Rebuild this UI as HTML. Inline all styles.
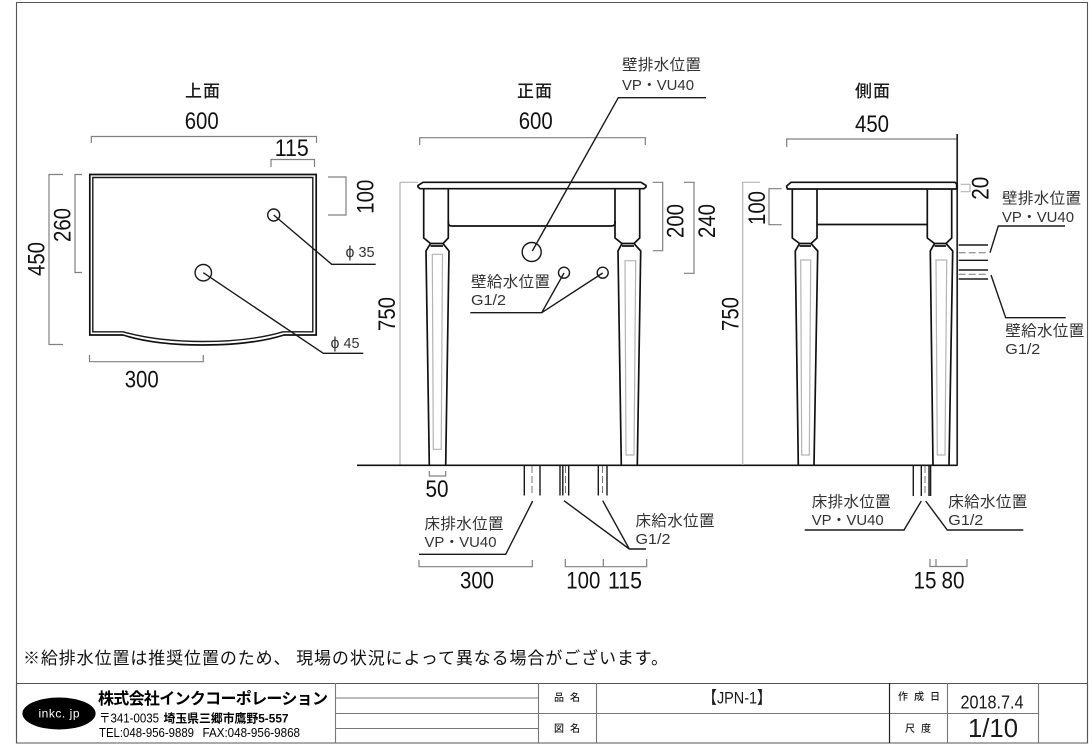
<!DOCTYPE html>
<html lang="ja">
<head>
<meta charset="utf-8">
<title>JPN-1</title>
<style>
html,body{margin:0;padding:0;background:#fff;width:1092px;height:746px;overflow:hidden}
svg{display:block}
text{font-family:"Liberation Sans","Noto Sans CJK JP",sans-serif;fill:#1a1a1a}
.d{font-size:24px;text-anchor:middle;fill:#111}
.h{font-size:17px;text-anchor:middle;letter-spacing:1px;font-family:"Noto Sans CJK JP",sans-serif;font-weight:500}
.l{font-size:15.5px;font-family:"Noto Sans CJK JP",sans-serif;fill:#333}
.s{font-size:15px;fill:#333}
.g{fill:none;stroke:#808080;stroke-width:1.2}
.b{fill:none;stroke:#111;stroke-width:1.7}
.k{fill:none;stroke:#1a1a1a;stroke-width:1.4}
.q{fill:none;stroke:#b4b4b4;stroke-width:1.2}
.c{font-size:10px;font-family:"Noto Sans CJK JP",sans-serif;text-anchor:middle;font-weight:500}
.da{stroke-dasharray:7 3;stroke:#777;stroke-width:1;fill:none}
</style>
</head>
<body>
<svg width="1092" height="746" viewBox="0 0 1092 746" xmlns="http://www.w3.org/2000/svg">
<!-- frame -->
<path d="M16.5 2.5H1087.5V743H16.5Z" fill="none" stroke="#555" stroke-width="1.1"/>

<!-- TOP VIEW -->
<text class="h" x="203" y="97">上面</text>
<path class="b" d="M89.8 174.5H316.2V335H284C262 342 235 345 203 345C171 345 145 342 123 335H89.8Z" stroke-width="2"/>
<path class="k" d="M92.8 177.5H312.8V331.8H283C262 338 235 341.5 203 341.5C171 341.5 145 338 123 331.8H92.8Z"/>
<circle class="k" cx="273.7" cy="215" r="6"/>
<circle class="k" cx="203.3" cy="272.7" r="8.2"/>
<path class="k" d="M273.7 215L331.7 264.3H375.7"/>
<path class="k" d="M203.3 272.7L323.3 353.3H363.3"/>
<path class="g" d="M91.3 143V136.5H316.5V143"/>
<path class="g" d="M271 167V159.5H314.5V167"/>
<path class="g" d="M328 177H346V215H328"/>
<path class="g" d="M82 174.5H75V272.5H82"/>
<path class="g" d="M63 174.5H49V344.5H63"/>
<path class="g" d="M89.5 355V361.7H203.3V355"/>
<text class="d" x="201.7" y="129" textLength="34" lengthAdjust="spacingAndGlyphs">600</text>
<text class="d" x="291.7" y="156" textLength="34" lengthAdjust="spacingAndGlyphs">115</text>
<text class="d" x="141.7" y="387.5" textLength="34" lengthAdjust="spacingAndGlyphs">300</text>
<text class="d" transform="translate(373.4 196.7) rotate(-90)" textLength="34" lengthAdjust="spacingAndGlyphs">100</text>
<text class="d" transform="translate(70.4 225) rotate(-90)" textLength="34" lengthAdjust="spacingAndGlyphs">260</text>
<text class="d" transform="translate(44.4 259) rotate(-90)" textLength="34" lengthAdjust="spacingAndGlyphs">450</text>
<text x="345.5" y="257" font-size="16" style="fill:#333">ϕ</text>
<text class="s" x="358.5" y="257" textLength="16" lengthAdjust="spacingAndGlyphs">35</text>
<text x="330.5" y="348" font-size="16" style="fill:#333">ϕ</text>
<text class="s" x="343.5" y="348" textLength="16" lengthAdjust="spacingAndGlyphs">45</text>

<!-- FRONT VIEW -->
<text class="h" x="535" y="97">正面</text>
<text class="d" x="535.7" y="129" textLength="34" lengthAdjust="spacingAndGlyphs">600</text>
<path class="g" d="M419.7 145V137.7H645.3V145"/>
<path class="q" d="M418 182.3H400V465"/>
<path class="g" d="M652.7 182.3H662.7V250.7H652.7"/>
<path class="g" d="M684 182.3H694V273.3H684"/>
<text class="d" transform="translate(683.4 221) rotate(-90)" textLength="34" lengthAdjust="spacingAndGlyphs">200</text>
<text class="d" transform="translate(715 221) rotate(-90)" textLength="34" lengthAdjust="spacingAndGlyphs">240</text>
<text class="d" transform="translate(395 314) rotate(-90)" textLength="34" lengthAdjust="spacingAndGlyphs">750</text>
<path class="b" d="M423 182.3H641L646 185.5V187L644 188.7H420L418 187V185.5Z"/>
<path class="b" d="M448.3 221V223Q448.3 226 452 226H611Q615 226 615 223V221"/>
<!-- front legs -->
<path class="b" d="M423.7 188.7V238L430.5 243.5L426 251L429.3 465M448.3 188.7V238L443 243.5L449 251L445.7 465M430.5 243.5H443M430.5 246H443"/>
<path class="b" d="M615 188.7V238L622 243.5L618 251L621.3 465M639.7 188.7V238L634 243.5L640.7 251L637.3 465M622 243.5H634M622 246H634"/>
<path class="q" d="M432.3 254.3H442.5L441.2 449.3H433.3Z"/>
<path class="q" d="M625 260.7H635.7L634 455H626Z"/>
<!-- front floor -->
<path class="b" d="M357 465.3H957.5"/>
<circle class="k" cx="531.7" cy="252" r="9.5"/>
<circle class="k" cx="564" cy="272.7" r="5.5"/>
<circle class="k" cx="602.7" cy="272.7" r="5.5"/>
<path class="k" d="M706 97.7H618.3L532.3 251"/>
<path class="k" d="M470.3 312.7H541.7L564 273M541.7 312.7L602.7 273"/>
<text class="l" x="622" y="70" textLength="79">壁排水位置</text>
<text class="s" x="622" y="90" textLength="72" lengthAdjust="spacingAndGlyphs">VP・VU40</text>
<text class="l" x="471" y="287" textLength="79">壁給水位置</text>
<text class="s" x="471" y="305" textLength="35" lengthAdjust="spacingAndGlyphs">G1/2</text>
<!-- front pipes -->
<path class="k" d="M524.3 466V495.5M540 466V495.5M560 466V495.5M562.8 466V495.5M568.7 466V495.5M598.3 466V495.5M607 466V495.5"/>
<path class="da" d="M532 466V495.5M565.5 466V495.5M602.5 466V495.5"/>
<path class="k" d="M419 554.3H505.7L532.7 501"/>
<path class="k" d="M564 500.7L629.3 549H646M602.7 500.7L629.3 549"/>
<text class="l" x="424.5" y="529" textLength="79">床排水位置</text>
<text class="s" x="424.5" y="547" textLength="72" lengthAdjust="spacingAndGlyphs">VP・VU40</text>
<text class="l" x="635.5" y="526" textLength="79">床給水位置</text>
<text class="s" x="635.5" y="544" textLength="35" lengthAdjust="spacingAndGlyphs">G1/2</text>
<path class="g" d="M429.3 471V476H445.7V471"/>
<path class="g" d="M419 560V566.7H532.3V560"/>
<path class="g" d="M565.3 559V566.7H646.7V559M603.3 559V566.7"/>
<text class="d" x="437" y="497" textLength="23" lengthAdjust="spacingAndGlyphs">50</text>
<text class="d" x="477" y="588.5" textLength="34" lengthAdjust="spacingAndGlyphs">300</text>
<text class="d" x="583.3" y="588.5" textLength="34" lengthAdjust="spacingAndGlyphs">100</text>
<text class="d" x="625" y="588.5" textLength="34" lengthAdjust="spacingAndGlyphs">115</text>

<!-- SIDE VIEW -->
<text class="h" x="873" y="97">側面</text>
<text class="d" x="872" y="132" textLength="34" lengthAdjust="spacingAndGlyphs">450</text>
<path class="g" d="M786.7 147V139H957"/>
<path class="q" d="M760 182.3H742.7V465"/>
<path class="g" d="M781.7 188.7H769V224.7H781.7"/>
<text class="d" transform="translate(765 208) rotate(-90)" textLength="34" lengthAdjust="spacingAndGlyphs">100</text>
<text class="d" transform="translate(738.4 314) rotate(-90)" textLength="34" lengthAdjust="spacingAndGlyphs">750</text>
<path class="q" d="M960.7 184.3H970V191.7H960.7"/>
<text class="d" transform="translate(988.4 188.3) rotate(-90)" textLength="23" lengthAdjust="spacingAndGlyphs">20</text>
<path d="M957.2 134V465.5" fill="none" stroke="#222" stroke-width="1.7"/>
<path class="b" d="M791 182.3H955L956.7 184V189H787.5L786.7 187V186Z"/>
<path class="b" d="M817 224.5H927.3"/>
<path class="b" d="M792.3 189V238L799.5 243.5L795.3 251L798.3 465M817 189V238L811 243.5L817.7 251L814 465M799.5 243.5H811M799.5 246H811"/>
<path class="b" d="M927.3 189V238L934.5 243.5L930.3 251L933 465M951.7 189V238L946 243.5L952.7 251L949 465M934.5 243.5H946M934.5 246H946"/>
<path class="q" d="M800.7 260H810.7L809.3 455H801.7Z"/>
<path class="q" d="M936 260H946.7L945 455H937.3Z"/>
<!-- wall pipes -->
<path class="k" d="M958.7 245H988M958.7 260.3H988M958.7 270H988M958.7 279H988"/>
<path class="da" d="M958.7 252.7H988M958.7 274.3H988"/>
<path class="k" d="M1065 226H998.3L990 252.7"/>
<path class="k" d="M991 275L1005.7 317.7H1065.7"/>
<text class="l" x="1002" y="203.5" textLength="79">壁排水位置</text>
<text class="s" x="1002" y="222" textLength="72" lengthAdjust="spacingAndGlyphs">VP・VU40</text>
<text class="l" x="1005.3" y="336" textLength="79">壁給水位置</text>
<text class="s" x="1005.3" y="354" textLength="35" lengthAdjust="spacingAndGlyphs">G1/2</text>
<!-- side floor pipes -->
<path class="k" d="M913.3 466V496M921.3 466V496M929 466V496M930.6 466V496"/>
<path class="da" d="M925 466V496"/>
<path class="k" d="M804.7 530H904L921.3 501"/>
<path class="k" d="M925.7 501L947.3 530H1023.3"/>
<text class="l" x="811.7" y="507" textLength="79">床排水位置</text>
<text class="s" x="811.7" y="525" textLength="72" lengthAdjust="spacingAndGlyphs">VP・VU40</text>
<text class="l" x="948.3" y="507" textLength="79">床給水位置</text>
<text class="s" x="948.3" y="525" textLength="35" lengthAdjust="spacingAndGlyphs">G1/2</text>
<path class="g" d="M930 559V566.5H967V559M936 559V566.5"/>
<text class="d" x="925" y="588.5" textLength="23" lengthAdjust="spacingAndGlyphs">15</text>
<text class="d" x="953" y="588.5" textLength="23" lengthAdjust="spacingAndGlyphs">80</text>

<!-- note -->
<text x="23" y="664" font-size="17" textLength="645" style="font-family:'Noto Sans CJK JP',sans-serif;fill:#111">※給排水位置は推奨位置のため、 現場の状況によって異なる場合がございます。</text>

<!-- title block -->
<path d="M16.5 683.5H1087.5V743H16.5Z" fill="none" stroke="#555" stroke-width="1.1"/>
<path fill="none" stroke="#777" stroke-width="1.1" d="M335.5 683V743M538.5 683V743M596.5 683V743M947.5 683V743M1038.5 683V743M335 713.5H1038.5M335 698H538M335 728.5H538"/>
<path fill="none" stroke="#222" stroke-width="1.2" d="M889.5 683V743"/>
<ellipse cx="59" cy="713.5" rx="36.6" ry="16" fill="#000"/>
<text x="59" y="717.7" font-size="12" text-anchor="middle" textLength="41" style="fill:#fff">inkc. jp</text>
<text x="98" y="704" font-size="16" textLength="230" style="font-family:'Noto Sans CJK JP',sans-serif;font-weight:700;fill:#000">株式会社インクコーポレーション</text>
<text x="99" y="722.5" font-size="13" textLength="60" lengthAdjust="spacingAndGlyphs" style="font-family:'Liberation Sans','Noto Sans CJK JP',sans-serif;fill:#000">〒341-0035</text>
<text x="163.5" y="722.5" font-size="12" textLength="125" lengthAdjust="spacingAndGlyphs" style="font-family:'Liberation Sans','Noto Sans CJK JP',sans-serif;font-weight:700;fill:#000">埼玉県三郷市鷹野5-557</text>
<text x="99" y="737" font-size="13" textLength="95" lengthAdjust="spacingAndGlyphs" style="fill:#000">TEL:048-956-9889</text>
<text x="202.5" y="737" font-size="13" textLength="97.5" lengthAdjust="spacingAndGlyphs" style="fill:#000">FAX:048-956-9868</text>
<text class="c" x="570" y="701" letter-spacing="6">品名</text>
<text class="c" x="570" y="732" letter-spacing="6">図名</text>
<text x="737" y="703.5" font-size="17" text-anchor="middle" textLength="69" lengthAdjust="spacingAndGlyphs" style="font-family:'Liberation Sans','Noto Sans CJK JP',sans-serif">【JPN-1】</text>
<text class="c" x="922" y="700" letter-spacing="6">作成日</text>
<text class="c" x="921" y="732" letter-spacing="6">尺度</text>
<text x="992" y="708.5" font-size="18" text-anchor="middle" textLength="63" lengthAdjust="spacingAndGlyphs">2018.7.4</text>
<text x="993" y="737" font-size="26" text-anchor="middle" textLength="50" lengthAdjust="spacingAndGlyphs">1/10</text>
</svg>
</body>
</html>
